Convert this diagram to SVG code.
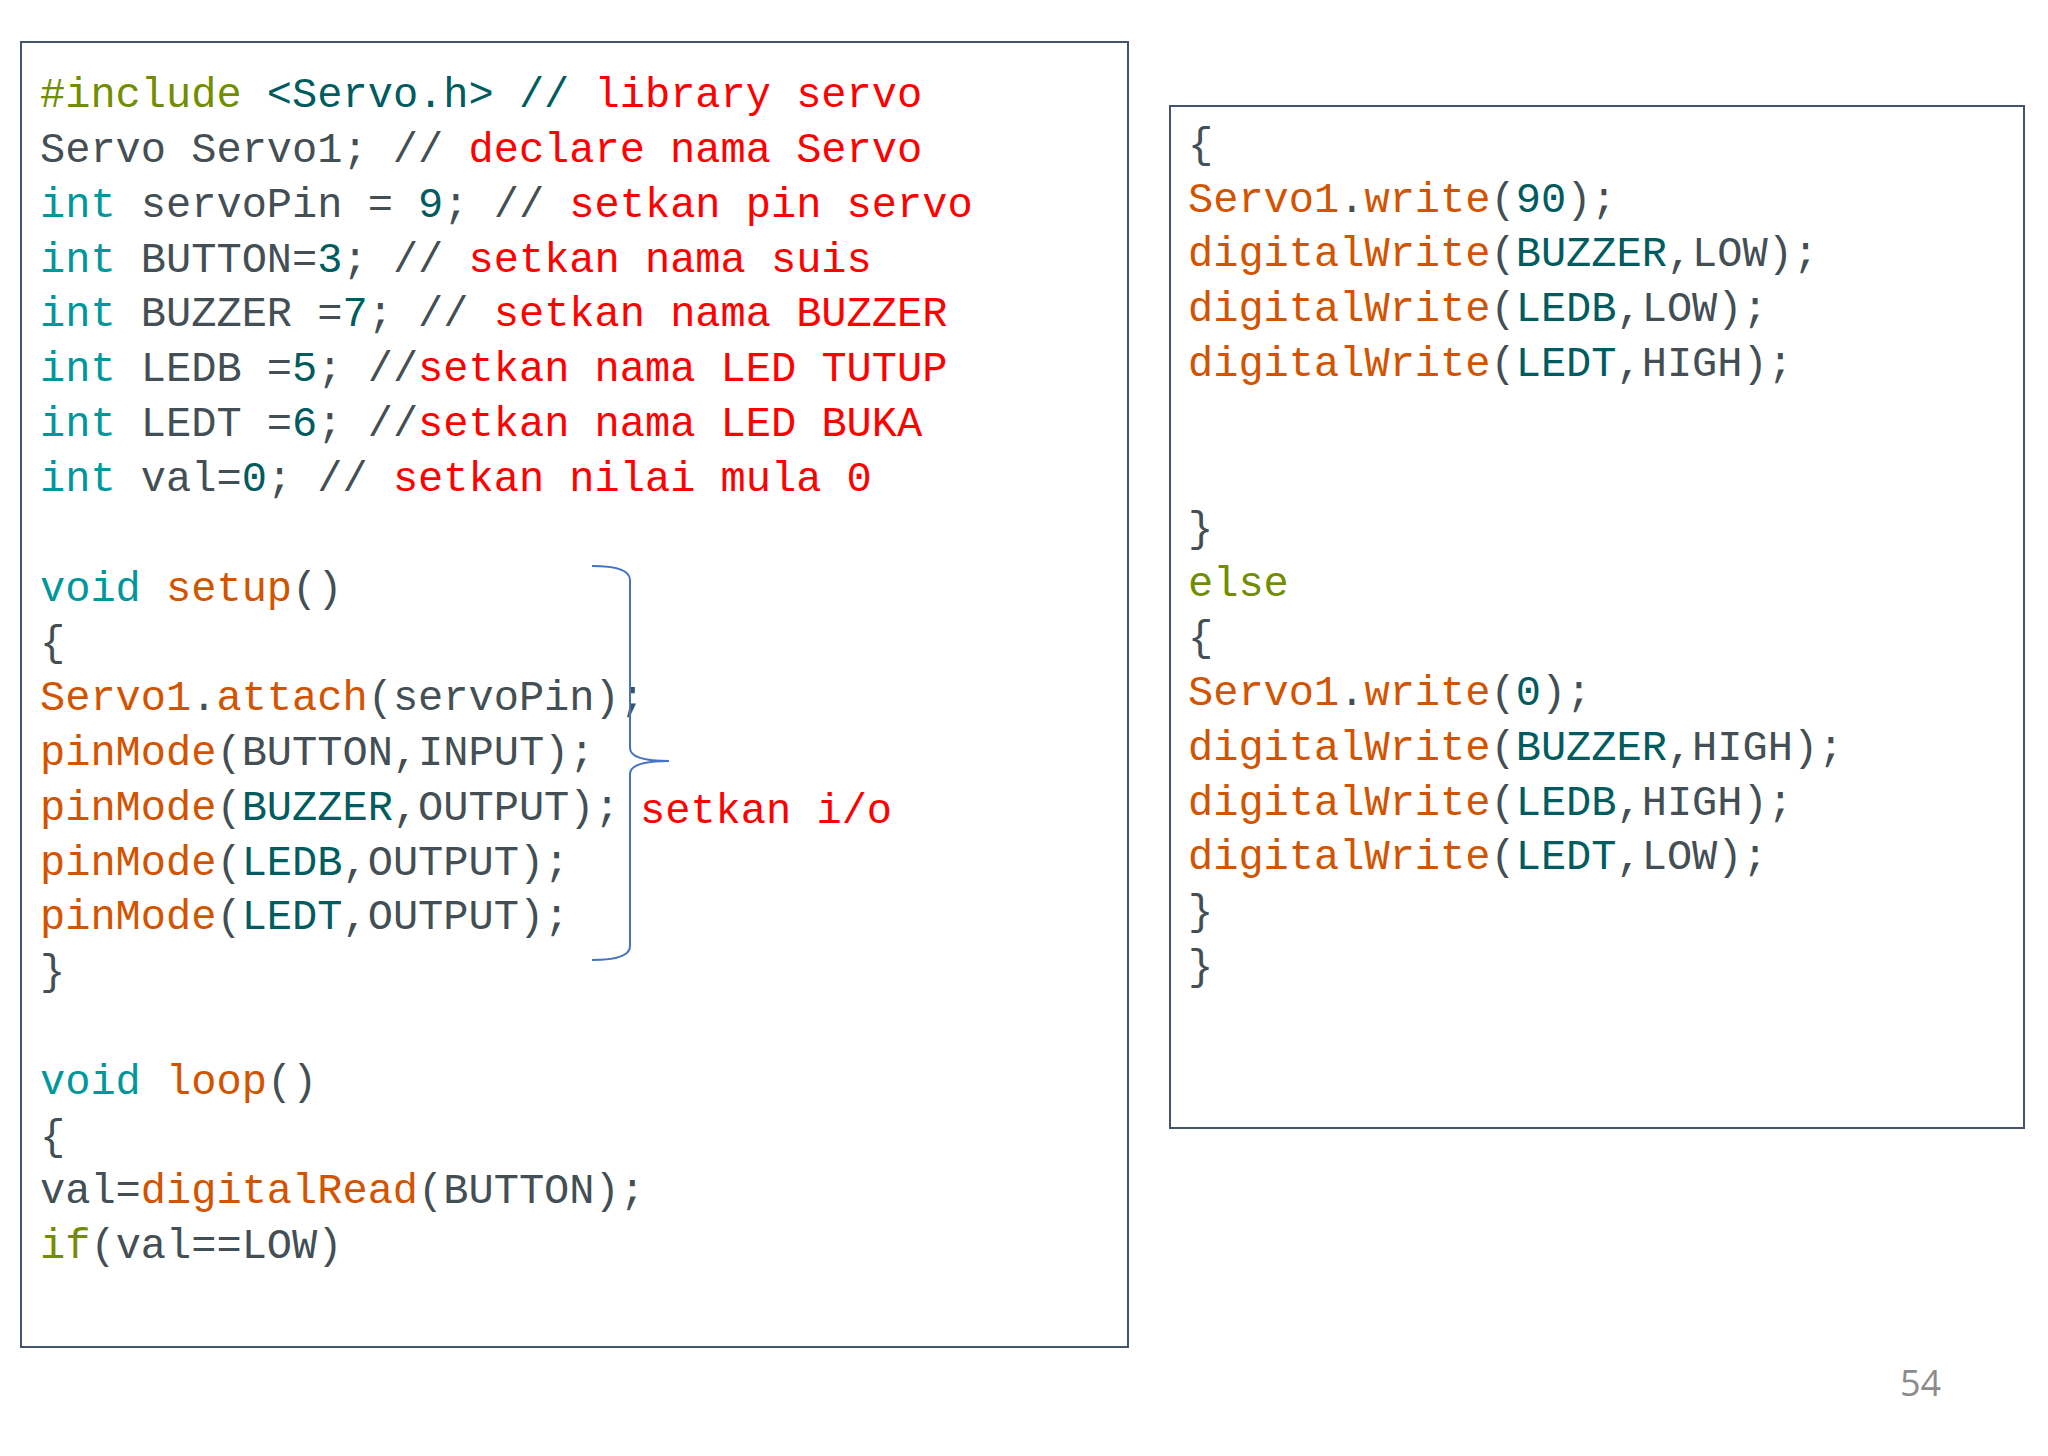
<svg xmlns="http://www.w3.org/2000/svg" width="2048" height="1456" viewBox="0 0 2048 1456">
<style>
text{font-family:"Liberation Mono","DejaVu Sans Mono",monospace;font-size:42px;fill:#434F54;white-space:pre}
.k{fill:#00979C}.f{fill:#D35400}.g{fill:#728E00}.c{fill:#005C5F}.r{fill:#FF0000}
.box{fill:none;stroke:#44546A;stroke-width:2}
</style>
<rect width="2048" height="1456" fill="#fff"/>
<g id="left">
<rect class="box" x="21" y="42" width="1107" height="1305"/>
<text x="40" y="107"><tspan class="g">#include</tspan> <tspan class="c">&lt;Servo.h&gt; //</tspan> <tspan class="r">library servo</tspan></text>
<text x="40" y="162">Servo Servo1; // <tspan class="r">declare nama Servo</tspan></text>
<text x="40" y="217"><tspan class="k">int</tspan> servoPin = <tspan class="c">9</tspan>; // <tspan class="r">setkan pin servo</tspan></text>
<text x="40" y="272"><tspan class="k">int</tspan> BUTTON=<tspan class="c">3</tspan>; // <tspan class="r">setkan nama suis</tspan></text>
<text x="40" y="326"><tspan class="k">int</tspan> BUZZER =<tspan class="c">7</tspan>; // <tspan class="r">setkan nama BUZZER</tspan></text>
<text x="40" y="381"><tspan class="k">int</tspan> LEDB =<tspan class="c">5</tspan>; //<tspan class="r">setkan nama LED TUTUP</tspan></text>
<text x="40" y="436"><tspan class="k">int</tspan> LEDT =<tspan class="c">6</tspan>; //<tspan class="r">setkan nama LED BUKA</tspan></text>
<text x="40" y="491"><tspan class="k">int</tspan> val=<tspan class="c">0</tspan>; // <tspan class="r">setkan nilai mula 0</tspan></text>
<text x="40" y="601"><tspan class="k">void</tspan> <tspan class="f">setup</tspan>()</text>
<text x="40" y="655">{</text>
<text x="40" y="710"><tspan class="f">Servo1</tspan>.<tspan class="f">attach</tspan>(servoPin);</text>
<text x="40" y="765"><tspan class="f">pinMode</tspan>(BUTTON,INPUT);</text>
<text x="40" y="820"><tspan class="f">pinMode</tspan>(<tspan class="c">BUZZER</tspan>,OUTPUT);</text>
<text x="40" y="875"><tspan class="f">pinMode</tspan>(<tspan class="c">LEDB</tspan>,OUTPUT);</text>
<text x="40" y="929"><tspan class="f">pinMode</tspan>(<tspan class="c">LEDT</tspan>,OUTPUT);</text>
<text x="40" y="984">}</text>
<text x="40" y="1094"><tspan class="k">void</tspan> <tspan class="f">loop</tspan>()</text>
<text x="40" y="1149">{</text>
<text x="40" y="1203">val=<tspan class="f">digitalRead</tspan>(BUTTON);</text>
<text x="40" y="1258"><tspan class="g">if</tspan>(val==LOW)</text>
</g>
<g id="brace">
<path d="M592,566 Q630,566 630,580 L630,748 Q630,761 669,761 Q630,761 630,774 L630,946 Q630,960 592,960" fill="none" stroke="#4472C4" stroke-width="2"/>
<text x="640" y="823" class="r">setkan i/o</text>
</g>
<g id="right">
<rect class="box" x="1170" y="106" width="854" height="1022"/>
<text x="1188" y="157">{</text>
<text x="1188" y="212"><tspan class="f">Servo1</tspan>.<tspan class="f">write</tspan>(<tspan class="c">90</tspan>);</text>
<text x="1188" y="266"><tspan class="f">digitalWrite</tspan>(<tspan class="c">BUZZER</tspan>,LOW);</text>
<text x="1188" y="321"><tspan class="f">digitalWrite</tspan>(<tspan class="c">LEDB</tspan>,LOW);</text>
<text x="1188" y="376"><tspan class="f">digitalWrite</tspan>(<tspan class="c">LEDT</tspan>,HIGH);</text>
<text x="1188" y="541">}</text>
<text x="1188" y="596" class="g">else</text>
<text x="1188" y="650">{</text>
<text x="1188" y="705"><tspan class="f">Servo1</tspan>.<tspan class="f">write</tspan>(<tspan class="c">0</tspan>);</text>
<text x="1188" y="760"><tspan class="f">digitalWrite</tspan>(<tspan class="c">BUZZER</tspan>,HIGH);</text>
<text x="1188" y="815"><tspan class="f">digitalWrite</tspan>(<tspan class="c">LEDB</tspan>,HIGH);</text>
<text x="1188" y="869"><tspan class="f">digitalWrite</tspan>(<tspan class="c">LEDT</tspan>,LOW);</text>
<text x="1188" y="924">}</text>
<text x="1188" y="979">}</text>
</g>
<text x="1900" y="1396" style="font-family:'Open Sans','Liberation Sans',sans-serif;font-size:36px;fill:#8C8C8C">54</text>
</svg>
